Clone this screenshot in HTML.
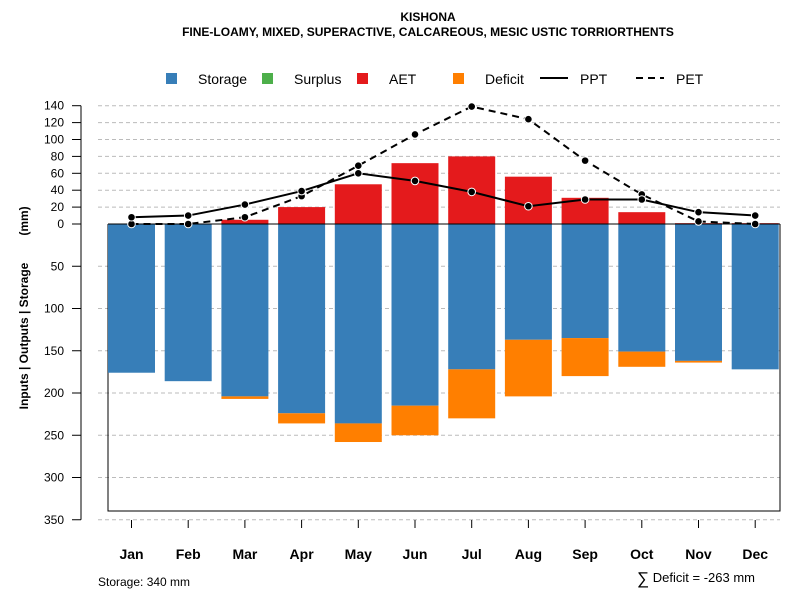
<!DOCTYPE html>
<html><head><meta charset="utf-8"><style>body{margin:0;background:#fff}svg{display:block;font-family:"Liberation Sans",sans-serif}</style></head>
<body>
<svg id="c" width="800" height="600">
<text x="428" y="21" text-anchor="middle" font-size="12" font-weight="bold">KISHONA</text>
<text x="428" y="36" text-anchor="middle" font-size="12" font-weight="bold">FINE-LOAMY, MIXED, SUPERACTIVE, CALCAREOUS, MESIC USTIC TORRIORTHENTS</text>
<g font-size="14">
<g><rect x="166" y="73" width="11" height="11" fill="#377eb8"/><text x="198" y="84">Storage</text></g>
<g><rect x="262" y="73" width="11" height="11" fill="#4daf4a"/><text x="294" y="84">Surplus</text></g>
<g><rect x="357" y="73" width="11" height="11" fill="#e41a1c"/><text x="389" y="84">AET</text></g>
<g><rect x="453" y="73" width="11" height="11" fill="#ff7f00"/><text x="485" y="84">Deficit</text></g>
<g><line x1="540" y1="78" x2="568" y2="78" stroke="#000" stroke-width="2"/><text x="580" y="84">PPT</text></g>
<g><line x1="636" y1="78" x2="664" y2="78" stroke="#000" stroke-width="2" stroke-dasharray="7,5"/><text x="676" y="84">PET</text></g>
</g>
<g font-size="12" font-weight="bold">
<text transform="translate(28,336) rotate(-90)" text-anchor="middle">Inputs | Outputs | Storage</text>
<text transform="translate(28,221) rotate(-90)" text-anchor="middle">(mm)</text>
</g>
<text x="98" y="586" font-size="12">Storage: 340 mm</text>
<g><text x="637" y="584" font-size="17">∑</text><text x="755" y="582" text-anchor="end" font-size="13">Deficit = -263 mm</text></g>
<g id="g"></g>
</svg>
<script>
const months=["Jan","Feb","Mar","Apr","May","Jun","Jul","Aug","Sep","Oct","Nov","Dec"];
const storage=[176,186,204,224,236,215,172,137,135,151,162,172];
const deficit=[0,0,3,12,22,35,58,67,45,18,2,0];
const aet=[0,0,5,20,47,72,80,56,31,14,1,1];
const ppt=[8,10,23,39,60,51,38,21,29,29,14,10];
const pet=[0,0,8,33,69,106,139,124,75,35,3,0];
const upTicks=[0,20,40,60,80,100,120,140];
const downTicks=[50,100,150,200,250,300,350];
const NS="http://www.w3.org/2000/svg",g=document.getElementById("g");
const k=0.845,y0=224;
const y=v=>y0-v*k, x=i=>131.5+i*56.7;
function mk(t,a){const e=document.createElementNS(NS,t);for(const n in a)e.setAttribute(n,a[n]);g.appendChild(e);return e;}
upTicks.concat(downTicks.map(v=>-v)).forEach(v=>{if(v===0)return;const l=mk("line",{x1:98,x2:780,y1:y(v),y2:y(v),stroke:"#bbb","stroke-dasharray":"4,3"});

});
const ax=mk("line",{x1:81,x2:81,y1:y(140),y2:y(-350),stroke:"#000"});


upTicks.concat(downTicks.map(v=>-v)).forEach(v=>{mk("line",{x1:72,x2:81,y1:y(v),y2:y(v),stroke:"#000"});
const t=mk("text",{x:64,y:y(v)+4,"text-anchor":"end","font-size":12});t.textContent=Math.abs(v);

});
const bx=mk("polyline",{points:`108,${y0} 108,511 780,511 780,${y0}`,fill:"none",stroke:"#000"});


months.forEach((m,i)=>{const L=x(i)-23.5,w=47;
let r=mk("rect",{x:L,y:y0,width:w,height:storage[i]*k,fill:"#377eb8"});


r=mk("rect",{x:L,y:y0+storage[i]*k,width:w,height:deficit[i]*k,fill:"#ff7f00"});


r=mk("rect",{x:L,y:y(aet[i]),width:w,height:aet[i]*k,fill:"#e41a1c"});


mk("line",{x1:x(i),x2:x(i),y1:520,y2:528,stroke:"#000"});
const t=mk("text",{x:x(i),y:559,"text-anchor":"middle","font-size":14,"font-weight":"bold"});t.textContent=m;

});
const zl=mk("line",{x1:108,x2:780,y1:y0,y2:y0,stroke:"#000"});


[[pet,"7,5","pet-line"],[ppt,"","ppt-line"]].forEach(([d,da,n])=>{
const p=mk("polyline",{points:d.map((v,i)=>x(i)+","+y(v)).join(" "),fill:"none",stroke:"#000","stroke-width":2,"stroke-dasharray":da});


d.forEach((v,i)=>{const c=mk("circle",{cx:x(i),cy:y(v),r:3.8,fill:"#000",stroke:"#fff","stroke-width":1});

});});
</script>
</body></html>
